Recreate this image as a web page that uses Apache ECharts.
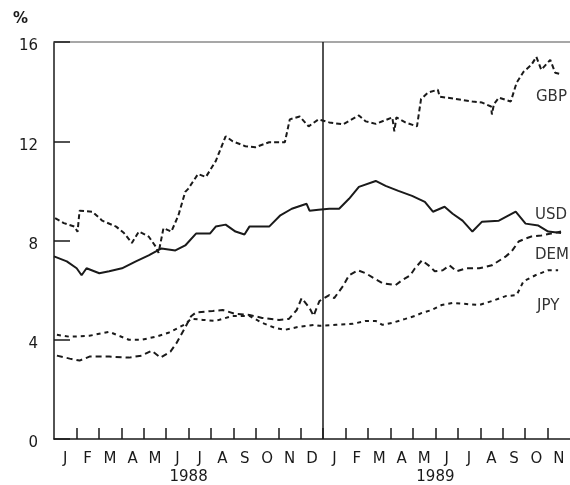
<!DOCTYPE html>
<html>
<head>
<meta charset="utf-8">
<script src="https://cdn.jsdelivr.net/npm/echarts@6/dist/echarts.min.js"></script>
<style>html,body{margin:0;padding:0;background:#fff}#c{width:570px;height:485px}</style>
</head>
<body>
<div id="c"></div>
<script>
// x = months since start of Jan 1988 (0..23), y = percent
var monthLabels = ['J','F','M','A','M','J','J','A','S','O','N','D','J','F','M','A','M','J','J','A','S','O','N'];
var yearLabels = ['1988','1989'];
var yearLabelPos = [6, 17];
var yTicks = [0, 4, 8, 12, 16];
var seriesNames = ['GBP','USD','DEM','JPY'];

var gbp = [[0.05,8.9],[0.44,8.7],[0.92,8.56],[1.05,8.35],[1.14,9.2],[1.71,9.16],[2.15,8.8],[2.77,8.56],[3.12,8.3],[3.47,7.9],[3.78,8.36],[4.22,8.16],[4.53,7.76],[4.66,7.5],[4.88,8.5],[5.23,8.36],[5.54,9.0],[5.85,9.96],[5.98,10.08],[6.42,10.68],[6.77,10.56],[7.21,11.2],[7.65,12.2],[7.96,12.0],[8.53,11.8],[8.97,11.76],[9.59,11.96],[10.29,11.96],[10.51,12.88],[10.95,13.0],[11.35,12.6],[11.79,12.88],[12.27,12.76],[12.88,12.68],[13.59,13.04],[13.9,12.8],[14.34,12.7],[15.08,12.96],[15.17,12.4],[15.26,12.96],[15.66,12.76],[16.18,12.6],[16.36,13.7],[16.67,13.96],[17.11,14.08],[17.19,13.8],[18.07,13.68],[18.65,13.6],[19.08,13.56],[19.48,13.4],[19.52,13.08],[19.61,13.5],[19.83,13.76],[20.36,13.6],[20.62,14.36],[20.93,14.8],[21.28,15.08],[21.5,15.4],[21.72,14.88],[22.12,15.28],[22.34,14.76],[22.6,14.7]];

var usd = [[0,7.36],[0.57,7.16],[1.01,6.88],[1.23,6.6],[1.45,6.88],[2.02,6.68],[2.46,6.76],[3.03,6.88],[3.65,7.16],[4.22,7.4],[4.79,7.68],[5.41,7.6],[5.85,7.8],[6.33,8.28],[6.95,8.28],[7.21,8.56],[7.65,8.64],[8.09,8.36],[8.49,8.24],[8.71,8.56],[9.59,8.56],[10.07,9.0],[10.6,9.28],[11.26,9.48],[11.39,9.2],[11.79,9.24],[12.27,9.28],[12.71,9.28],[13.15,9.68],[13.59,10.16],[14.34,10.4],[14.78,10.2],[15.35,10.0],[15.96,9.8],[16.53,9.56],[16.89,9.16],[17.41,9.36],[17.77,9.08],[18.21,8.8],[18.65,8.36],[19.08,8.76],[19.83,8.8],[20.58,9.16],[21.02,8.68],[21.59,8.6],[22.03,8.36],[22.6,8.3]];

var dem = [[0.13,3.36],[0.7,3.24],[1.14,3.16],[1.58,3.32],[2.46,3.32],[3.34,3.28],[3.91,3.36],[4.35,3.56],[4.75,3.28],[5.19,3.52],[5.45,3.85],[5.85,4.5],[6.11,4.95],[6.33,5.1],[7.08,5.16],[7.52,5.2],[8.09,5.04],[8.71,5.0],[9.28,4.88],[10.03,4.8],[10.47,4.84],[10.82,5.2],[11.04,5.68],[11.39,5.28],[11.57,4.96],[11.83,5.56],[12.27,5.8],[12.49,5.68],[12.88,6.16],[13.15,6.6],[13.55,6.8],[13.9,6.68],[14.25,6.48],[14.64,6.28],[15.22,6.2],[15.52,6.4],[15.88,6.6],[16.09,6.88],[16.4,7.2],[16.75,6.96],[16.97,6.76],[17.33,6.8],[17.63,7.0],[17.94,6.76],[18.38,6.88],[18.95,6.88],[19.52,7.0],[20.14,7.36],[20.4,7.56],[20.71,7.96],[21.02,8.08],[21.28,8.16],[21.72,8.2],[22.16,8.28],[22.6,8.36]];

var jpy = [[0.13,4.2],[0.7,4.12],[1.58,4.16],[2.46,4.32],[2.9,4.16],[3.34,4.0],[3.91,4.0],[4.53,4.12],[5.1,4.28],[5.54,4.48],[5.89,4.65],[6.11,4.85],[6.64,4.8],[7.21,4.76],[7.96,4.96],[8.71,4.96],[9.28,4.68],[9.85,4.48],[10.29,4.4],[10.91,4.52],[11.61,4.6],[11.83,4.56],[12.58,4.6],[13.32,4.64],[13.9,4.76],[14.34,4.76],[14.64,4.6],[15.08,4.68],[15.66,4.84],[16.09,4.96],[16.4,5.08],[16.84,5.2],[17.28,5.4],[17.77,5.48],[18.38,5.44],[18.95,5.4],[19.52,5.56],[20.14,5.76],[20.62,5.8],[20.93,6.36],[21.46,6.6],[22.03,6.8],[22.47,6.8]];

var yearBoundary = 12;

var FONT = 'DejaVu Sans';
var INK = '#1a1a1a';
var monthCenters = monthLabels.map(function(_, i){ return i + 0.5; });
var monthBounds = []; for (var i = 1; i < monthLabels.length; i++) monthBounds.push(i);

var chart = echarts.init(document.getElementById('c'), null, {renderer:'canvas'});
function line(name, data, dash, extra) {
  var s = {
    name: name, type: 'line', data: data, xAxisIndex: 0, yAxisIndex: 0,
    showSymbol: false, symbol: 'none', animation: false, silent: true,
    lineStyle: { color: INK, width: 2, type: dash }
  };
  if (extra) for (var k in extra) s[k] = extra[k];
  return s;
}
chart.setOption({
  animation: false,
  backgroundColor: '#fff',
  grid: { left: 54, right: -7, top: 42, bottom: 43, containLabel: false },
  xAxis: [
    { type: 'value', min: 0, max: 23, interval: 1, position: 'bottom',
      axisLine: { show: true, onZero: false, lineStyle: { color: INK, width: 1.5 } },
      axisTick: { show: true, inside: true, length: 11, customValues: monthBounds, lineStyle: { color: INK, width: 1.5 } },
      axisLabel: { show: true, customValues: monthCenters, margin: 13, color: INK, fontFamily: FONT, fontSize: 15,
        formatter: function(v){ return monthLabels[Math.floor(v)] || ''; } },
      splitLine: { show: false } },
    { type: 'value', min: 0, max: 23, position: 'bottom', offset: 0,
      axisLine: { show: false }, axisTick: { show: false }, splitLine: { show: false },
      axisLabel: { show: true, customValues: yearLabelPos, margin: 31, color: INK, fontFamily: FONT, fontSize: 15,
        formatter: function(v){ var i = yearLabelPos.indexOf(v); return i >= 0 ? yearLabels[i] : ''; } } },
    { type: 'value', min: 0, max: 23, position: 'top',
      axisLine: { show: true, onZero: false, lineStyle: { color: '#8a8a8a', width: 1.5 } },
      axisTick: { show: false }, axisLabel: { show: false }, splitLine: { show: false } }
  ],
  yAxis: [{
    type: 'value', min: 0, max: 16, interval: 4,
    axisLine: { show: true, onZero: false, lineStyle: { color: INK, width: 1.5 } },
    axisTick: { show: true, inside: true, length: 16, lineStyle: { color: INK, width: 1.5 } },
    axisLabel: { show: true, margin: 16, color: INK, fontFamily: FONT, fontSize: 15,
      verticalAlign: 'top', lineHeight: 9,
      formatter: function(v){ return yTicks.indexOf(v) >= 0 ? String(v) : ''; } },
    splitLine: { show: false }
  }],
  series: [
    line(seriesNames[0], gbp, [5,3]),
    line(seriesNames[1], usd, 'solid', {
      markLine: { silent: true, symbol: 'none', label: { show: false },
        lineStyle: { color: INK, width: 1.5, type: 'solid' },
        data: [{ xAxis: yearBoundary }] }
    }),
    line(seriesNames[2], dem, [6,4]),
    line(seriesNames[3], jpy, [4,4])
  ],
  graphic: [
    { type: 'text', left: 13, top: 12, style: { text: '%', fill: INK, font: 'bold 15px "DejaVu Sans"' } },
    { type: 'text', left: 536, top: 90, style: { text: seriesNames[0], fill: '#333', font: '15px "DejaVu Sans"' } },
    { type: 'text', left: 535, top: 208, style: { text: seriesNames[1], fill: '#333', font: '15px "DejaVu Sans"' } },
    { type: 'text', left: 535, top: 248, style: { text: seriesNames[2], fill: '#333', font: '15px "DejaVu Sans"' } },
    { type: 'text', left: 537, top: 299, style: { text: seriesNames[3], fill: '#333', font: '15px "DejaVu Sans"' } }
  ]
});
</script>
</body>
</html>
